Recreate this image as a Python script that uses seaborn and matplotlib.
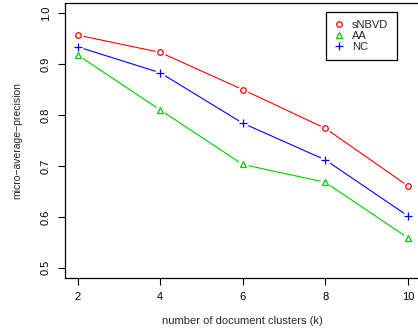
import pandas as pd
import matplotlib
matplotlib.use("Agg")
import matplotlib.pyplot as plt
import seaborn as sns

clusters = [2, 4, 6, 8, 10]
snbvd = [0.957, 0.923, 0.850, 0.774, 0.661]
aa = [0.918, 0.810, 0.703, 0.668, 0.559]
nc = [0.934, 0.883, 0.784, 0.712, 0.602]
methods = ["sNBVD", "AA", "NC"]

df = pd.DataFrame({
    "k": clusters * 3,
    "precision": snbvd + aa + nc,
    "method": [m for m in methods for _ in clusters],
})

sns.set_style("white")
plt.rcParams["font.family"] = ["Liberation Sans", "DejaVu Sans"]

colors = {"sNBVD": "#FF0000", "AA": "#00CD00", "NC": "#0000FF"}
markers = {"sNBVD": "o", "AA": "^", "NC": "+"}
msizes = {"sNBVD": 4.0, "AA": 5.0, "NC": 6.3}

fig = plt.figure(figsize=(4.18, 3.29), dpi=100)
ax = fig.add_axes([64.5 / 418, 51 / 329, (421 - 64.5) / 418, 275 / 329])

for m in methods:
    sub = df[df["method"] == m]
    sns.lineplot(data=sub, x="k", y="precision", ax=ax, color=colors[m],
                 linewidth=0.8, zorder=2)
    # white halo to mimic R type="b" gaps
    ax.plot(sub["k"], sub["precision"], linestyle="none", marker="o",
            markersize=7.5, markerfacecolor="white", markeredgecolor="none", zorder=3)

for m in methods:
    sub = df[df["method"] == m]
    ax.plot(sub["k"], sub["precision"], linestyle="none", marker=markers[m],
            markersize=msizes[m], markerfacecolor="none",
            markeredgecolor=colors[m], markeredgewidth=0.9, zorder=4, label=m)

ax.set_xlim(1.68, 10.32)
ax.set_ylim(0.48, 1.02)
ax.set_xticks(clusters)
ax.set_yticks([0.5, 0.6, 0.7, 0.8, 0.9, 1.0])
ax.set_yticklabels(["0.5", "0.6", "0.7", "0.8", "0.9", "1.0"], rotation=90, va="center")
ax.tick_params(axis="both", direction="out", length=5, width=0.8, labelsize=8,
               colors="black", left=True, bottom=True)
ax.tick_params(axis="x", pad=5)
ax.tick_params(axis="y", pad=5)
for s in ax.spines.values():
    s.set_visible(True)
    s.set_color("black")
    s.set_linewidth(0.9)

ax.set_xlabel("number of document clusters (k)", fontsize=8, labelpad=10)
ax.set_ylabel("micro\u2212average\u2212precision", fontsize=7.5, labelpad=13)

handles, labels = ax.get_legend_handles_labels()
leg = ax.legend(handles[-3:], labels[-3:], loc="upper left",
                bbox_to_anchor=(326 / 418, 1 - 12 / 329), bbox_transform=fig.transFigure,
                fancybox=False, edgecolor="black", framealpha=1, fontsize=8,
                handlelength=0.9, handletextpad=0.7, borderpad=0.75,
                labelspacing=0.08, borderaxespad=0)
leg.get_frame().set_linewidth(0.9)

fig.savefig("out.png", dpi=100)
